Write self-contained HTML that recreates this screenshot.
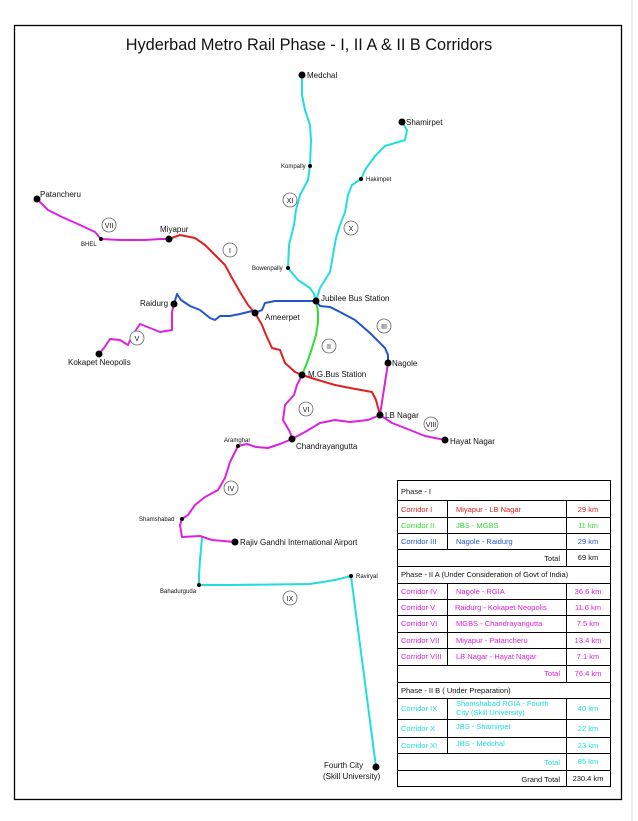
<!DOCTYPE html>
<html><head><meta charset="utf-8"><style>
html,body{margin:0;padding:0;background:#fff;width:638px;height:821px;overflow:hidden}
svg{display:block;font-family:"Liberation Sans",Arial,sans-serif}
</style></head><body>
<svg width="638" height="821" viewBox="0 0 638 821">
<rect x="0" y="0" width="638" height="821" fill="#fff"/>
<line x1="632" y1="0" x2="632" y2="821" stroke="#ddd" stroke-width="1"/>
<rect x="14.5" y="25.5" width="607" height="774" fill="none" stroke="#000" stroke-width="1.3"/>
<text x="309" y="50" font-size="16.3" text-anchor="middle" fill="#111">Hyderbad Metro Rail Phase - I, II A &amp; II B Corridors</text>
<g fill="none" stroke-width="2" stroke-linejoin="round" stroke-linecap="round">
<polyline stroke="#22dddd" points="302,75 302,95 305,110 310,125 311,140 310,166 308,180 300,195 296,210 294,225 289,245 288,268 298,280 310,288 314,294 316,301"/>
<polyline stroke="#22dddd" points="402,122 407,130 405,140 395,143 385,146 375,156 365,170 361,179 352,185 348,195 345,212 340,225 336,238 333,255 330,272 320,288 316,301"/>
<polyline stroke="#22dddd" points="202,538 200,560 199,575 199,585 230,585 310,584 335,580 351,576 376,767"/>
<polyline stroke="#33dd33" points="316,301 318,312 318,322 316,335 312,348 308,360 302,375"/>
<polyline stroke="#e02020" points="169,239 180,235 195,238 205,245 215,255 225,265 232,278 240,292 248,305 255,313 262,325 266,335 272,348 280,350 285,363 295,372 302,375 318,380 335,385 350,388 372,392 376,400 380,415"/>
<polyline stroke="#2255cc" points="174,304 177,294 181,300 190,306 200,310 210,318 215,320 220,316 230,316 240,314 252,311 255,313 262,310 265,303 275,301 300,301 316,301 320,306 330,307 340,312 355,320 370,333 385,348 388,355 388,363"/>
<polyline stroke="#dd22dd" points="37,199 48,210 62,217 80,225 95,232 101,239 120,240 145,240 160,239 169,239"/>
<polyline stroke="#dd22dd" points="174,304 172,312 172,330 160,332 150,328 140,324 132,336 128,345 120,340 110,339 104,348 99,354"/>
<polyline stroke="#dd22dd" points="302,375 297,385 294,395 285,405 283,420 290,432 292,439"/>
<polyline stroke="#dd22dd" points="380,415 388,363"/>
<polyline stroke="#dd22dd" points="445,440 425,436 405,428 392,423 380,415 368,420 350,422 335,420 320,423 305,432 292,439 280,444 268,448 256,447 247,444 238,446"/>
<polyline stroke="#dd22dd" points="238,446 230,462 225,478 218,490 205,497 195,505 188,515 182,519 180,525 182,537 200,536 212,540 235,542"/>
</g>
<g fill="#000">
<circle cx="302" cy="75" r="3.5"/><circle cx="310" cy="166" r="2"/><circle cx="288" cy="268" r="2"/>
<circle cx="402" cy="122" r="3.5"/><circle cx="361" cy="179" r="2"/><circle cx="316" cy="301" r="3.5"/>
<circle cx="37" cy="199" r="3.5"/><circle cx="101" cy="239" r="2"/><circle cx="169" cy="239" r="3.5"/>
<circle cx="174" cy="304" r="3.5"/><circle cx="99" cy="354" r="3.5"/><circle cx="255" cy="313" r="3.5"/>
<circle cx="302" cy="375" r="3.5"/><circle cx="388" cy="363" r="3.5"/><circle cx="380" cy="415" r="3.5"/>
<circle cx="445" cy="440" r="3.5"/><circle cx="292" cy="439" r="3.5"/><circle cx="238" cy="446" r="2"/>
<circle cx="182" cy="519" r="2"/><circle cx="235" cy="542" r="3.5"/><circle cx="199" cy="585" r="2"/>
<circle cx="351" cy="576" r="2"/><circle cx="376" cy="767" r="3.5"/>
</g>
<g font-size="8" fill="#111">
<text x="307" y="78">Medchal</text>
<text x="281" y="168" font-size="6">Kompally</text>
<text x="252" y="270" font-size="6">Bowenpally</text>
<text x="406" y="125">Shamirpet</text>
<text x="366" y="181" font-size="6">Hakimpet</text>
<text x="40" y="197">Patancheru</text>
<text x="81" y="246" font-size="6">BHEL</text>
<text x="160" y="232">Miyapur</text>
<text x="140" y="306">Raidurg</text>
<text x="68" y="365">Kokapet Neopolis</text>
<text x="265" y="320">Ameerpet</text>
<text x="321" y="301">Jubilee Bus Station</text>
<text x="308" y="377">M.G.Bus Station</text>
<text x="392" y="366">Nagole</text>
<text x="385" y="418">LB Nagar</text>
<text x="450" y="444">Hayat Nagar</text>
<text x="296" y="449">Chandrayangutta</text>
<text x="224" y="442" font-size="6">Aramghar</text>
<text x="139" y="521" font-size="6">Shamshabad</text>
<text x="240" y="545">Rajiv Gandhi International Airport</text>
<text x="160" y="593" font-size="6">Bahadurguda</text>
<text x="356" y="578" font-size="6">Raviryal</text>
<text x="324" y="768">Fourth City</text>
<text x="323" y="779">(Skill University)</text>
</g>
<g fill="#fff" stroke="#666" stroke-width="0.8">
<circle cx="109" cy="225" r="7"/><circle cx="230" cy="250" r="7"/><circle cx="290" cy="200" r="7"/>
<circle cx="351" cy="228" r="7"/><circle cx="384" cy="326" r="7"/><circle cx="329" cy="346" r="7"/>
<circle cx="137" cy="338" r="7"/><circle cx="306" cy="409" r="7"/><circle cx="431" cy="424" r="7"/>
<circle cx="231" cy="488" r="7"/><circle cx="290" cy="598" r="7"/>
</g>
<g font-size="7" text-anchor="middle" fill="#111">
<text x="109" y="228">VII</text><text x="230" y="253">I</text><text x="290" y="203">XI</text>
<text x="351" y="231">X</text><text x="384" y="329">III</text><text x="329" y="349">II</text>
<text x="137" y="341">V</text><text x="306" y="412">VI</text><text x="431" y="427">VIII</text>
<text x="231" y="491">IV</text><text x="290" y="601">IX</text>
</g>
<g stroke="#000" stroke-width="1" fill="none">
<rect x="397.5" y="480.5" width="213" height="306"/>
<line x1="397" y1="500.5" x2="610" y2="500.5"/>
<line x1="397" y1="517.5" x2="610" y2="517.5"/>
<line x1="397" y1="533.5" x2="610" y2="533.5"/>
<line x1="397" y1="549.5" x2="610" y2="549.5"/>
<line x1="397" y1="566.5" x2="610" y2="566.5"/>
<line x1="397" y1="583.5" x2="610" y2="583.5"/>
<line x1="397" y1="599.5" x2="610" y2="599.5"/>
<line x1="397" y1="615.5" x2="610" y2="615.5"/>
<line x1="397" y1="632.5" x2="610" y2="632.5"/>
<line x1="397" y1="648.5" x2="610" y2="648.5"/>
<line x1="397" y1="665.5" x2="610" y2="665.5"/>
<line x1="397" y1="682.5" x2="610" y2="682.5"/>
<line x1="397" y1="698.5" x2="610" y2="698.5"/>
<line x1="397" y1="719.5" x2="610" y2="719.5"/>
<line x1="397" y1="737.5" x2="610" y2="737.5"/>
<line x1="397" y1="753.5" x2="610" y2="753.5"/>
<line x1="397" y1="770.5" x2="610" y2="770.5"/>
<line x1="447.5" y1="500" x2="447.5" y2="549"/>
<line x1="566.5" y1="500" x2="566.5" y2="566"/>
<line x1="447.5" y1="583" x2="447.5" y2="665"/>
<line x1="566.5" y1="583" x2="566.5" y2="682"/>
<line x1="447.5" y1="698" x2="447.5" y2="753"/>
<line x1="566.5" y1="698" x2="566.5" y2="786"/>
</g>
<g font-size="7.5">
<text x="401" y="494" fill="#111">Phase - I</text>
<g fill="#e02020"><text x="401" y="512">Corridor I</text><text x="456" y="512">Miyapur - LB Nagar</text><text x="588" y="512" text-anchor="middle">29 km</text></g>
<g fill="#33dd33"><text x="401" y="528">Corridor II</text><text x="456" y="528">JBS - MGBS</text><text x="588" y="528" text-anchor="middle">11 km</text></g>
<g fill="#2255cc"><text x="401" y="544">Corridor III</text><text x="456" y="544">Nagole - Raidurg</text><text x="588" y="544" text-anchor="middle">29 km</text></g>
<text x="560" y="561" fill="#111" text-anchor="end">Total</text><text x="588" y="560" fill="#111" text-anchor="middle">69 km</text>
<text x="401" y="577" fill="#111">Phase - II A (Under Consideration of Govt of India)</text>
<g fill="#dd22dd">
<text x="401" y="594">Corridor IV</text><text x="456" y="594">Nagole - RGIA</text><text x="588" y="594" text-anchor="middle">36.6 km</text>
<text x="401" y="610">Corridor V</text><text x="455" y="610">Raidurg - Kokapet Neopolis</text><text x="588" y="610" text-anchor="middle">11.6 km</text>
<text x="401" y="626">Corridor VI</text><text x="456" y="626">MGBS - Chandrayangutta</text><text x="588" y="626" text-anchor="middle">7.5 km</text>
<text x="401" y="643">Corridor VII</text><text x="456" y="643">Miyapur - Patancheru</text><text x="588" y="643" text-anchor="middle">13.4 km</text>
<text x="401" y="659">Corridor VIII</text><text x="456" y="659">LB Nagar - Hayat Nagar</text><text x="588" y="659" text-anchor="middle">7.1 km</text>
<text x="560" y="676" text-anchor="end">Total</text><text x="588" y="676" text-anchor="middle">76.4 km</text>
</g>
<text x="401" y="693" fill="#111">Phase - II B ( Under Preparation)</text>
<g fill="#22dddd">
<text x="401" y="711">Corridor IX</text><text x="456" y="706">Shamshabad RGIA - Fourth</text><text x="456" y="715">City (Skill University)</text><text x="588" y="711" text-anchor="middle">40 km</text>
<text x="401" y="731">Corridor X</text><text x="456" y="729">JBS - Shamirpet</text><text x="588" y="731" text-anchor="middle">22 km</text>
<text x="401" y="748">Corridor XI</text><text x="456" y="746">JBS - Medchal</text><text x="588" y="748" text-anchor="middle">23 km</text>
<text x="560" y="765" text-anchor="end">Total</text><text x="588" y="764" text-anchor="middle">85 km</text>
</g>
<text x="560" y="782" fill="#111" text-anchor="end">Grand Total</text><text x="588" y="781" fill="#111" text-anchor="middle">230.4 km</text>
</g>
</svg>
</body></html>
